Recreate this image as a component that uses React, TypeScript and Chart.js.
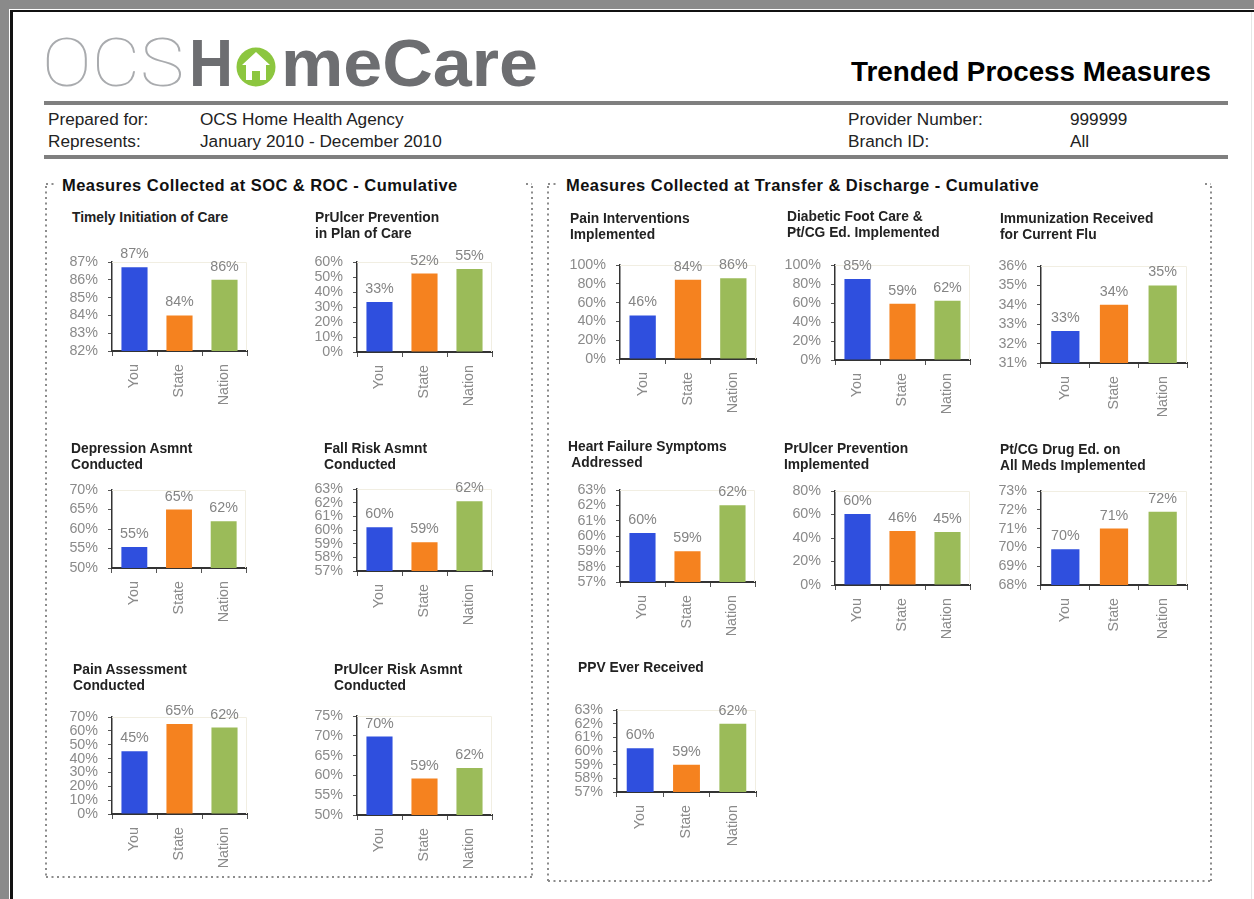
import React, { useEffect, useRef } from "react";
import { Chart, registerables } from "chart.js";

Chart.register(...registerables);

// ---------- data ----------
const CATEGORIES = ["You", "State", "Nation"];
const BAR_COLORS = ["#2f4fde", "#f5821f", "#9bbb59"];

const timelyInitiationOfCare = [86.7, 84.0, 86.0];
const prUlcerPreventionInPlan = [33.3, 52.3, 55.3];
const painInterventionsImplemented = [46.3, 84.4, 86.0];
const diabeticFootCareEd = [85.3, 59.3, 62.3];
const fluImmunization = [32.65, 34.0, 35.0];
const depressionAsmnt = [55.4, 65.0, 62.0];
const fallRiskAsmnt = [60.2, 59.1, 62.1];
const heartFailureSymptoms = [60.2, 59.0, 62.0];
const prUlcerPreventionImplemented = [60.4, 46.0, 45.1];
const drugEducationAllMeds = [69.9, 71.0, 71.9];
const painAssessment = [45.3, 65.0, 62.4];
const prUlcerRiskAsmnt = [69.8, 59.2, 61.9];
const ppvEverReceived = [60.2, 59.0, 62.0];

// axis ranges: [min, max, step]
const rangeTimely = [82, 87, 1];
const rangePrUlcerPlan = [0, 60, 10];
const rangePainInterv = [0, 100, 20];
const rangeDiabetic = [0, 100, 20];
const rangeFlu = [31, 36, 1];
const rangeDepression = [50, 70, 5];
const rangeFallRisk = [57, 63, 1];
const rangeHeartFailure = [57, 63, 1];
const rangePrUlcerImpl = [0, 80, 20];
const rangeDrugEd = [68, 73, 1];
const rangePainAssess = [0, 70, 10];
const rangePrUlcerRisk = [50, 75, 5];
const rangePpv = [57, 63, 1];

type ChartSpec = {
  title: string[];
  titleX: number;
  titleY: number;
  values: number[];
  range: number[];
  box: { l: number; t: number; b: number; r: number };
};

const CHARTS: ChartSpec[] = [
  { title: ["Timely Initiation of Care"], titleX: 72, titleY: 218, values: timelyInitiationOfCare, range: rangeTimely, box: { l: 112, t: 262, b: 351, r: 247 } },
  { title: ["PrUlcer Prevention", "in Plan of Care"], titleX: 315, titleY: 218, values: prUlcerPreventionInPlan, range: rangePrUlcerPlan, box: { l: 357, t: 262, b: 352, r: 492 } },
  { title: ["Pain Interventions", "Implemented"], titleX: 570, titleY: 219, values: painInterventionsImplemented, range: rangePainInterv, box: { l: 620, t: 265, b: 359, r: 756 } },
  { title: ["Diabetic Foot Care &", "Pt/CG Ed. Implemented"], titleX: 787, titleY: 217, values: diabeticFootCareEd, range: rangeDiabetic, box: { l: 835, t: 265, b: 360, r: 970 } },
  { title: ["Immunization Received", "for Current Flu"], titleX: 1000, titleY: 219, values: fluImmunization, range: rangeFlu, box: { l: 1041, t: 266, b: 363, r: 1187 } },
  { title: ["Depression Asmnt", "Conducted"], titleX: 71, titleY: 449, values: depressionAsmnt, range: rangeDepression, box: { l: 112, t: 490, b: 568, r: 246 } },
  { title: ["Fall Risk Asmnt", "Conducted"], titleX: 324, titleY: 449, values: fallRiskAsmnt, range: rangeFallRisk, box: { l: 357, t: 489, b: 571, r: 492 } },
  { title: ["Heart Failure Symptoms", " Addressed"], titleX: 568, titleY: 447, values: heartFailureSymptoms, range: rangeHeartFailure, box: { l: 620, t: 490, b: 582, r: 755 } },
  { title: ["PrUlcer Prevention", "Implemented"], titleX: 784, titleY: 449, values: prUlcerPreventionImplemented, range: rangePrUlcerImpl, box: { l: 835, t: 491, b: 585, r: 970 } },
  { title: ["Pt/CG Drug Ed. on", "All Meds Implemented"], titleX: 1000, titleY: 450, values: drugEducationAllMeds, range: rangeDrugEd, box: { l: 1041, t: 491, b: 585, r: 1187 } },
  { title: ["Pain Assessment", "Conducted"], titleX: 73, titleY: 670, values: painAssessment, range: rangePainAssess, box: { l: 112, t: 717, b: 814, r: 247 } },
  { title: ["PrUlcer Risk Asmnt", "Conducted"], titleX: 334, titleY: 670, values: prUlcerRiskAsmnt, range: rangePrUlcerRisk, box: { l: 357, t: 716, b: 815, r: 492 } },
  { title: ["PPV Ever Received"], titleX: 578, titleY: 668, values: ppvEverReceived, range: rangePpv, box: { l: 617, t: 710, b: 792, r: 756 } },
];

const FONT = "'Liberation Sans', Arial, sans-serif";
const GRAY_TEXT = "#8a8a8a";
const TICK_SIZE = 14.3;

const PADT = 26;
const YW = 62;
const XH = 62;
const PADR = 8;

const valueLabelPlugin = {
  id: "valueLabels",
  afterDatasetsDraw(chart: any) {
    const ctx = chart.ctx;
    const meta = chart.getDatasetMeta(0);
    const data = chart.data.datasets[0].data;
    ctx.save();
    ctx.fillStyle = "#848484";
    ctx.font = `${TICK_SIZE}px ${FONT}`;
    ctx.textAlign = "center";
    ctx.textBaseline = "alphabetic";
    meta.data.forEach((bar: any, i: number) => {
      ctx.fillText(Math.round(data[i]) + "%", bar.x, bar.y - 9);
    });
    ctx.restore();
  },
};

const plotFramePlugin = {
  id: "plotFrame",
  beforeDatasetsDraw(chart: any) {
    const { ctx, chartArea } = chart;
    ctx.save();
    ctx.strokeStyle = "#f1eee2";
    ctx.lineWidth = 1;
    ctx.beginPath();
    ctx.moveTo(chartArea.left, chartArea.top + 0.5);
    ctx.lineTo(chartArea.right - 0.5, chartArea.top + 0.5);
    ctx.lineTo(chartArea.right - 0.5, chartArea.bottom);
    ctx.stroke();
    ctx.restore();
  },
};

function MiniBarChart({ spec }: { spec: ChartSpec }) {
  const ref = useRef<HTMLCanvasElement | null>(null);
  const { box, values, range } = spec;
  const left = box.l - YW;
  const top = box.t - PADT;
  const width = YW + (box.r - box.l) + PADR;
  const height = PADT + (box.b - box.t) + XH;

  useEffect(() => {
    if (!ref.current) return;
    const chart = new Chart(ref.current, {
      type: "bar",
      data: {
        labels: CATEGORIES,
        datasets: [
          {
            data: values,
            backgroundColor: BAR_COLORS,
            borderWidth: 0,
            barPercentage: 0.58,
            categoryPercentage: 1,
          },
        ],
      },
      options: {
        responsive: false,
        maintainAspectRatio: false,
        animation: false,
        events: [],
        layout: { padding: { top: PADT, right: PADR, left: 0, bottom: 0 } },
        plugins: {
          legend: { display: false },
          tooltip: { enabled: false },
          title: { display: false },
        },
        scales: {
          x: {
            offset: true,
            grid: {
              display: true,
              drawOnChartArea: false,
              drawTicks: true,
              tickLength: 5,
              color: "#555",
              offset: true,
            },
            border: { display: true, color: "#333", width: 2 },
            ticks: {
              autoSkip: false,
              minRotation: 90,
              maxRotation: 90,
              padding: 8,
              color: GRAY_TEXT,
              font: { family: FONT, size: TICK_SIZE },
            },
            afterFit: (s: any) => {
              s.height = XH;
            },
          },
          y: {
            min: range[0],
            max: range[1],
            grid: {
              display: true,
              drawOnChartArea: false,
              drawTicks: true,
              tickLength: 4,
              color: "#555",
            },
            border: { display: true, color: "#333", width: 1.5 },
            ticks: {
              stepSize: range[2],
              autoSkip: false,
              padding: 10,
              color: GRAY_TEXT,
              font: { family: FONT, size: TICK_SIZE },
              callback: (v: any) => Math.round(Number(v)) + "%",
            },
            afterFit: (s: any) => {
              s.width = YW;
            },
          },
        },
      },
      plugins: [plotFramePlugin, valueLabelPlugin],
    } as any);
    return () => chart.destroy();
  }, []);

  return (
    <canvas
      ref={ref}
      width={width}
      height={height}
      style={{ position: "absolute", left, top, width, height }}
    />
  );
}

function ChartTitle({ spec }: { spec: ChartSpec }) {
  return (
    <div
      style={{
        position: "absolute",
        left: spec.titleX,
        top: spec.titleY - 8,
        font: `bold 13.8px ${FONT}`,
        lineHeight: "16px",
        color: "#222",
        whiteSpace: "pre",
      }}
    >
      {spec.title.join("\n")}
    </div>
  );
}

const txt = (s: React.CSSProperties): React.CSSProperties => ({
  position: "absolute",
  whiteSpace: "pre",
  fontFamily: FONT,
  ...s,
});

function DottedBox({ l, t, r, b }: { l: number; t: number; r: number; b: number }) {
  const st = { stroke: "#8c8c8c", strokeWidth: 2, strokeDasharray: "2 3.5" } as any;
  return (
    <g>
      <line x1={l} y1={t} x2={l} y2={b} {...st} />
      <line x1={r} y1={t} x2={r} y2={b} {...st} />
      <line x1={l} y1={b} x2={r} y2={b} {...st} />
      <line x1={l} y1={t - 2} x2={l + 10} y2={t - 2} {...st} />
      <line x1={r - 6} y1={t - 2} x2={r} y2={t - 2} {...st} />
    </g>
  );
}

const sectionTitle: React.CSSProperties = {
  font: `bold 16.5px ${FONT}`,
  letterSpacing: "0.45px",
  color: "#111",
  background: "#fff",
  paddingRight: 2,
};

export default function App() {
  return (
    <div
      style={{
        position: "absolute",
        left: 0,
        top: 0,
        width: 1254,
        height: 899,
        background: "#ffffff",
        overflow: "hidden",
      }}
    >
      {/* frame + section boxes */}
      <svg width={1254} height={899} style={{ position: "absolute", left: 0, top: 0 }}>
        <rect x={0} y={0} width={1254} height={9} fill="#8a8a8a" />
        <rect x={0} y={0} width={9} height={899} fill="#8a8a8a" />
        <rect x={10} y={10} width={1244} height={2} fill="#111" />
        <rect x={10} y={10} width={3} height={889} fill="#111" />
        <rect x={1251} y={12} width={1} height={887} fill="#e6e6e6" />
        <rect x={44} y={101} width={1184} height={4} fill="#7f7f7f" />
        <rect x={44} y={155} width={1184} height={4} fill="#7f7f7f" />
        <DottedBox l={46} t={186} r={532} b={877} />
        <DottedBox l={548} t={186} r={1211} b={881} />
      </svg>

      {/* logo */}
      <svg width={560} height={100} style={{ position: "absolute", left: 0, top: 0 }}>
        <text x={42} y={86} fontFamily="Roboto, 'Liberation Sans'" fontWeight={100} fontSize={67} fill="#a9abae" textLength={142} lengthAdjust="spacingAndGlyphs">
          OCS
        </text>
        <text x={189} y={86} fontFamily={FONT} fontWeight={700} fontSize={67} fill="#6d6e71" textLength={44} lengthAdjust="spacingAndGlyphs">
          H
        </text>
        <circle cx={256} cy={67} r={19.5} fill="#8cc63f" />
        <polygon points="256,52 270,65 266,65 266,80 246,80 246,65 242,65" fill="#ffffff" />
        <rect x={252} y={71} width={8} height={9} fill="#8cc63f" />
        <text x={281} y={86} fontFamily={FONT} fontWeight={700} fontSize={67} fill="#6d6e71" textLength={257} lengthAdjust="spacingAndGlyphs">
          meCare
        </text>
      </svg>

      <div style={txt({ left: 851, top: 56, font: `bold 27.8px ${FONT}`, color: "#000" })}>
        Trended Process Measures
      </div>

      <div style={txt({ left: 48, top: 109, fontSize: 17.2, color: "#222" })}>Prepared for:</div>
      <div style={txt({ left: 200, top: 109, fontSize: 17.2, color: "#222" })}>OCS Home Health Agency</div>
      <div style={txt({ left: 48, top: 131, fontSize: 17.2, color: "#222" })}>Represents:</div>
      <div style={txt({ left: 200, top: 131, fontSize: 17.2, color: "#222" })}>January 2010 - December 2010</div>
      <div style={txt({ left: 848, top: 109, fontSize: 17.2, color: "#222" })}>Provider Number:</div>
      <div style={txt({ left: 1070, top: 109, fontSize: 17.2, color: "#222" })}>999999</div>
      <div style={txt({ left: 848, top: 131, fontSize: 17.2, color: "#222" })}>Branch ID:</div>
      <div style={txt({ left: 1070, top: 131, fontSize: 17.2, color: "#222" })}>All</div>

      <div style={txt({ left: 62, top: 176, ...sectionTitle })}>
        Measures Collected at SOC &amp; ROC - Cumulative
      </div>
      <div style={txt({ left: 566, top: 176, ...sectionTitle })}>
        Measures Collected at Transfer &amp; Discharge - Cumulative
      </div>

      {CHARTS.map((c, i) => (
        <MiniBarChart key={"c" + i} spec={c} />
      ))}
      {CHARTS.map((c, i) => (
        <ChartTitle key={"t" + i} spec={c} />
      ))}
    </div>
  );
}
